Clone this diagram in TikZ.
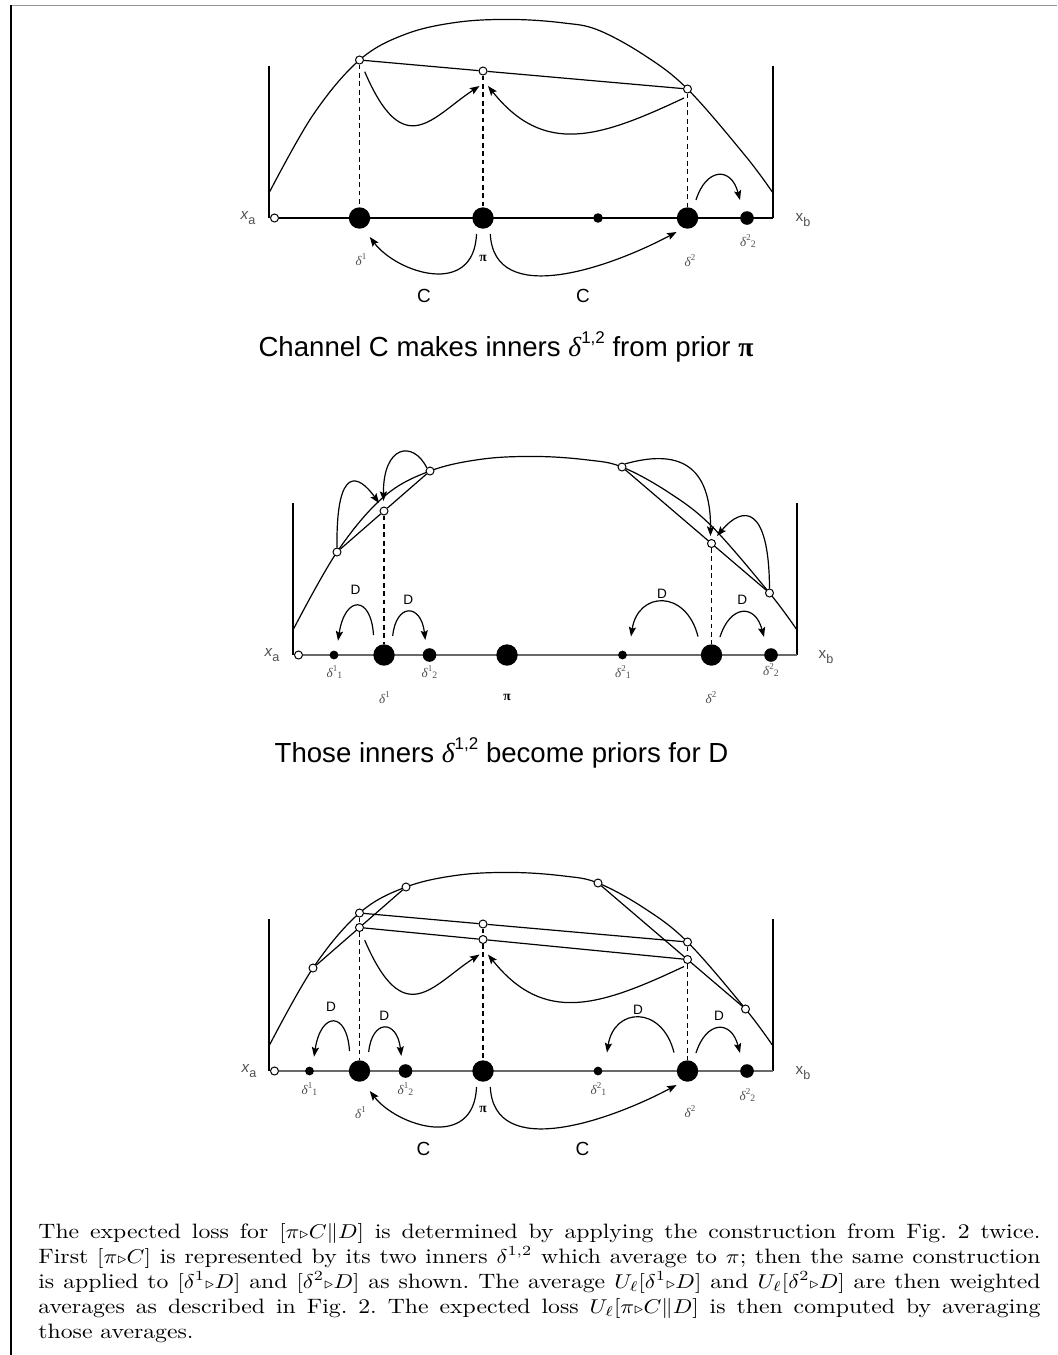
\documentclass[tikz,border=0pt]{standalone}
\usepackage{fontspec}
\usepackage{graphicx}
\usepackage{amsmath,amssymb}
\usetikzlibrary{arrows.meta}
\newfontfamily\lsans{Liberation Sans}
\newfontfamily\lserif{Liberation Serif}
\definecolor{lbl}{RGB}{80,80,80}
\definecolor{axg}{RGB}{105,105,105}
\definecolor{frameg}{RGB}{150,150,150}
\newcommand\dsup[1]{{\itshape δ}\raisebox{0.45em}{\fontsize{4.5}{4}\selectfont #1}}
\newcommand\dsupsub[2]{{\itshape δ}\raisebox{0.45em}{\fontsize{4.5}{4}\selectfont #1}\raisebox{-0.1em}{\fontsize{4.9}{4}\selectfont #2}}
\newcommand\xsub[1]{\raisebox{-0.3em}{\fontsize{6.3}{6}\selectfont #1}}
\newcommand\tri{{\scriptstyle\triangleright}}
\newcommand\pline[1]{\scalebox{1.14}[1]{\makebox[439.5pt][s]{#1}}}
\begin{document}
\begin{tikzpicture}[x=0.5pt,y=0.5pt,
  ln/.style={line width=0.6pt},
  ocirc/.style={circle,draw,fill=white,line width=0.5pt,inner sep=0pt,minimum size=4pt},
  bigdot/.style={circle,fill,inner sep=0pt,minimum size=10.7pt},
  middot/.style={circle,fill,inner sep=0pt,minimum size=6.8pt},
  smdot/.style={circle,fill,inner sep=0pt,minimum size=4.4pt},
  dsh/.style={line width=0.55pt,dash pattern=on 2.4pt off 1.8pt},
  arr/.style={line width=0.6pt,-{Stealth[length=4.8pt,width=3.6pt,inset=0.9pt]}},
  dlab/.style={text=lbl,font=\lserif\fontsize{6.6}{6.6}\selectfont,inner sep=0pt},
  pilab/.style={font=\lserif\bfseries\fontsize{6.8}{6.8}\selectfont,inner sep=0pt},
  clab/.style={font=\lsans\fontsize{9.5}{9.5}\selectfont,inner sep=0pt},
  Dlab/.style={font=\lsans\fontsize{6.8}{6.8}\selectfont,inner sep=0pt},
  xlab/.style={text=lbl,font=\lsans\fontsize{7.6}{7.6}\selectfont,inner sep=0pt},
  captxt/.style={font=\lsans\fontsize{13.8}{14}\selectfont,inner sep=0pt},
  para/.style={font=\frenchspacing\fontsize{10.4}{12.5}\selectfont,inner sep=0pt,anchor=base west}]
\useasboundingbox (0,0) rectangle (1057,-1355);
% frame
\coordinate (fr-tl) at (10,-5.3); \coordinate (fr-tr) at (1057,-5.3);
\coordinate (fr-l1) at (10.5,-5); \coordinate (fr-l2) at (10.5,-1355);
\draw[frameg,line width=0.75pt] (fr-tl) -- (fr-tr);
\draw[black,line width=1pt] (fr-l1) -- (fr-l2);

% ================= TOP =================
\begin{scope}[shift={(269,-218)}]
\draw[ln] plot[smooth,tension=0.6] coordinates {(0,25) (44,103) (90.5,158) (137,184) (190,196) (245,198.5) (295,195) (329,188) (375,163) (418.5,129) (476.5,62) (504,25)};
\coordinate (t-vl) at (0,152); \coordinate (t-o) at (0,0);
\coordinate (t-e) at (504,0); \coordinate (t-vr) at (504,152);
\draw[ln] (t-vl) -- (t-o);
\draw[ln] (t-e) -- (t-vr);
\node[ocirc] (t-xa) at (5.5,0) {};
\draw[ln] (t-xa) -- (t-e);
\node[bigdot] (t-d1) at (90.5,0) {};
\node[bigdot] (t-pi) at (214,0) {};
\node[smdot,minimum size=4.8pt] (t-d21) at (329,0) {};
\node[bigdot] (t-d2) at (418.5,0) {};
\node[middot] (t-d22) at (478,0) {};
\node[ocirc] (t-p1) at (90.5,158) {};
\node[ocirc] (t-pp) at (214,147) {};
\node[ocirc] (t-p2) at (418.5,129) {};
\draw[ln] (t-p1) -- (t-pp) -- (t-p2);
\draw[dsh] (t-p1) -- (t-d1);
\draw[dsh] (t-pp) -- (t-pi);
\draw[dsh] (t-p2) -- (t-d2);
\coordinate (t-a1s) at (95.7,146.3); \coordinate (t-a1e) at (210.5,132);
\draw[arr] (t-a1s) .. controls (135,55) and (163,101) .. (t-a1e);
\coordinate (t-a2s) at (415,120); \coordinate (t-a2e) at (219,132);
\draw[arr] (t-a2s) .. controls (330,80) and (275,62) .. (t-a2e);
\coordinate (t-a3s) at (427,18); \coordinate (t-a3e) at (471,18);
\draw[arr] (t-a3s) .. controls (437,50) and (462,52) .. (t-a3e);
\coordinate (t-c1s) at (207.5,-16); \coordinate (t-c1e) at (100.8,-19);
\draw[arr] (t-c1s) .. controls (205,-80) and (128,-55) .. (t-c1e);
\coordinate (t-c2s) at (221.3,-16); \coordinate (t-c2e) at (407.6,-14);
\draw[arr] (t-c2s) .. controls (225,-90) and (340,-50) .. (t-c2e);
\node[clab] (t-C1) at (155,-78) {C};
\node[clab] (t-C2) at (314,-78) {C};
\node[dlab] (t-l1) at (92,-42) {\dsup{1}};
\node[pilab] (t-lpi) at (214,-40) {π};
\node[dlab] (t-l2) at (421,-43) {\dsup{2}};
\node[dlab] (t-l22) at (479,-23) {\dsupsub{2}{2}};
\node[xlab] (t-xal) at (-21,0) {{\itshape x}\xsub{a}};
\node[xlab] (t-xbl) at (534,-2) {x\xsub{b}};
\end{scope}
\node[captxt] (cap1) at (506,-347) {Channel C makes inners {\lserif\itshape δ}\raisebox{0.5em}{\fontsize{8.5}{8}\selectfont 1,2} from prior {\lserif\bfseries π}};

% ================= MIDDLE =================
\begin{scope}[shift={(293,-655)}]
\draw[ln] plot[smooth,tension=0.6] coordinates {(0,25) (44,103) (90.5,158) (137,184) (190,196) (245,198.5) (295,195) (329,188) (375,163) (418.5,129) (476.5,62) (504,25)};
\coordinate (m-vl) at (0,152); \coordinate (m-o) at (0,0);
\coordinate (m-e) at (504,0); \coordinate (m-vr) at (504,152);
\draw[ln] (m-vl) -- (m-o);
\draw[ln] (m-e) -- (m-vr);
\node[ocirc] (m-xa) at (5.5,0) {};
\draw[ln,axg] (m-xa) -- (m-e);
\node[smdot] (m-d11) at (41,0) {};
\node[bigdot] (m-d1) at (91,0) {};
\node[middot] (m-d12) at (136.5,0) {};
\node[bigdot] (m-pi) at (214,0) {};
\node[smdot] (m-d21) at (329.5,0) {};
\node[bigdot] (m-d2) at (418.5,0) {};
\node[middot] (m-d22) at (478,0) {};
\node[ocirc] (m-c1) at (44,103) {};
\node[ocirc] (m-c3) at (137,184) {};
\node[ocirc] (m-c4) at (329,188) {};
\node[ocirc] (m-c6) at (476.5,62) {};
\node[ocirc] (m-k1) at (91,144) {};
\node[ocirc] (m-k2) at (418.5,111.5) {};
\draw[ln] (m-c1) -- (m-k1) -- (m-c3);
\draw[ln] (m-c4) -- (m-k2) -- (m-c6);
\draw[dsh] (m-k1) -- (m-d1);
\draw[dsh] (m-k2) -- (m-d2);
\coordinate (m-a1e) at (86,152);
\draw[arr] (m-c1.north) .. controls (43,192) and (66,180) .. (m-a1e);
\coordinate (m-a2e) at (90.5,154);
\draw[arr] (m-c3.north west) .. controls (120,215) and (90,210) .. (m-a2e);
\coordinate (m-a3e) at (417.5,119);
\draw[arr] (m-c4.north east) .. controls (375,203) and (418,200) .. (m-a3e);
\coordinate (m-a4e) at (424,119);
\draw[arr] (m-c6.north) .. controls (476,150) and (450,150) .. (m-a4e);
\coordinate (m-D1s) at (80.5,20); \coordinate (m-D1e) at (45,14.3);
\draw[arr] (m-D1s) .. controls (78,60) and (52,60) .. (m-D1e);
\coordinate (m-D2s) at (99.7,19); \coordinate (m-D2e) at (132.3,15);
\draw[arr] (m-D2s) .. controls (103,52) and (128,52) .. (m-D2e);
\coordinate (m-D3s) at (405,18.5); \coordinate (m-D3e) at (338,18.5);
\draw[arr] (m-D3s) .. controls (393,66) and (345,64) .. (m-D3e);
\coordinate (m-D4s) at (427,18); \coordinate (m-D4e) at (471,18);
\draw[arr] (m-D4s) .. controls (437,50) and (462,52) .. (m-D4e);
\node[Dlab] (m-DL1) at (62.5,65) {D};
\node[Dlab] (m-DL2) at (115.4,55) {D};
\node[Dlab] (m-DL3) at (369,61) {D};
\node[Dlab] (m-DL4) at (449.4,55) {D};
\node[dlab] (m-l11) at (41.5,-17) {\dsupsub{1}{1}};
\node[dlab] (m-l12) at (136.5,-17) {\dsupsub{1}{2}};
\node[dlab] (m-l1) at (91.5,-43) {\dsup{1}};
\node[pilab] (m-lpi) at (214,-42) {π};
\node[dlab] (m-l21) at (330,-17) {\dsupsub{2}{1}};
\node[dlab] (m-l2) at (418,-43) {\dsup{2}};
\node[dlab] (m-l22) at (478,-15) {\dsupsub{2}{2}};
\node[xlab] (m-xal) at (-21,0) {{\itshape x}\xsub{a}};
\node[xlab] (m-xbl) at (533,-2) {x\xsub{b}};
\end{scope}
\node[captxt] (cap2) at (501.5,-753) {Those inners {\lserif\itshape δ}\raisebox{0.5em}{\fontsize{8.5}{8}\selectfont 1,2} become priors for D};

% ================= BOTTOM =================
\begin{scope}[shift={(269,-1071)}]
\draw[ln] plot[smooth,tension=0.6] coordinates {(0,25) (44,103) (90.5,158) (137,184) (190,196) (245,198.5) (295,195) (329,188) (375,163) (418.5,129) (476.5,62) (504,25)};
\coordinate (b-vl) at (0,152); \coordinate (b-o) at (0,0);
\coordinate (b-e) at (504,0); \coordinate (b-vr) at (504,152);
\draw[ln] (b-vl) -- (b-o);
\draw[ln] (b-e) -- (b-vr);
\node[ocirc] (b-xa) at (5.5,0) {};
\draw[ln,axg] (b-xa) -- (b-e);
\node[smdot] (b-d11) at (40.5,0) {};
\node[bigdot] (b-d1) at (90.5,0) {};
\node[middot] (b-d12) at (136.5,0) {};
\node[bigdot] (b-pi) at (214,0) {};
\node[smdot] (b-d21) at (329,0) {};
\node[bigdot] (b-d2) at (418.5,0) {};
\node[middot] (b-d22) at (478,0) {};
\node[ocirc] (b-c1) at (44,103) {};
\node[ocirc] (b-c2) at (90.5,158) {};
\node[ocirc] (b-c3) at (137,184) {};
\node[ocirc] (b-c4) at (329,188) {};
\node[ocirc] (b-c5) at (418.5,129) {};
\node[ocirc] (b-c6) at (476.5,62) {};
\node[ocirc] (b-k1) at (90.5,143.5) {};
\node[ocirc] (b-k2) at (418.5,111.5) {};
\node[ocirc] (b-pu) at (214,147) {};
\node[ocirc] (b-pl) at (214,131.5) {};
\draw[ln] (b-c1) -- (b-k1) -- (b-c3);
\draw[ln] (b-c4) -- (b-k2) -- (b-c6);
\draw[ln] (b-c2) -- (b-pu) -- (b-c5);
\draw[ln] (b-k1) -- (b-pl) -- (b-k2);
\draw[dsh] (b-c2) -- (b-k1);
\draw[dsh] (b-k1) -- (b-d1);
\draw[dsh] (b-pu) -- (b-pl);
\draw[dsh] (b-pl) -- (b-pi);
\draw[dsh] (b-c5) -- (b-k2);
\draw[dsh] (b-k2) -- (b-d2);
\coordinate (b-a1s) at (95.7,130.8); \coordinate (b-a1e) at (210.5,116.5);
\draw[arr] (b-a1s) .. controls (135,39.5) and (163,85.5) .. (b-a1e);
\coordinate (b-a2s) at (415,104.5); \coordinate (b-a2e) at (219,116.5);
\draw[arr] (b-a2s) .. controls (330,64.5) and (275,46.5) .. (b-a2e);
\coordinate (b-D1s) at (80.5,20); \coordinate (b-D1e) at (45,14.3);
\draw[arr] (b-D1s) .. controls (78,60) and (52,60) .. (b-D1e);
\coordinate (b-D2s) at (99.7,19); \coordinate (b-D2e) at (132.3,15);
\draw[arr] (b-D2s) .. controls (103,52) and (128,52) .. (b-D2e);
\coordinate (b-D3s) at (405,18.5); \coordinate (b-D3e) at (338,18.5);
\draw[arr] (b-D3s) .. controls (393,66) and (345,64) .. (b-D3e);
\coordinate (b-D4s) at (427,18); \coordinate (b-D4e) at (471,18);
\draw[arr] (b-D4s) .. controls (437,50) and (462,52) .. (b-D4e);
\node[Dlab] (b-DL1) at (62,64) {D};
\node[Dlab] (b-DL2) at (115.4,55) {D};
\node[Dlab] (b-DL3) at (369,61) {D};
\node[Dlab] (b-DL4) at (450,55) {D};
\coordinate (b-c1s) at (207.5,-16); \coordinate (b-c1e) at (100.8,-20);
\draw[arr] (b-c1s) .. controls (205,-80) and (128,-55) .. (b-c1e);
\coordinate (b-c2s) at (221.3,-16); \coordinate (b-c2e) at (407.6,-14);
\draw[arr] (b-c2s) .. controls (225,-90) and (340,-50) .. (b-c2e);
\node[clab] (b-C1) at (154.5,-78) {C};
\node[clab] (b-C2) at (313.5,-78) {C};
\node[dlab] (b-l11) at (40.5,-18) {\dsupsub{1}{1}};
\node[dlab] (b-l12) at (136.5,-18) {\dsupsub{1}{2}};
\node[dlab] (b-l1) at (91.5,-42) {\dsup{1}};
\node[pilab] (b-lpi) at (214,-38) {π};
\node[dlab] (b-l21) at (329.5,-18) {\dsupsub{2}{1}};
\node[dlab] (b-l2) at (421,-41) {\dsup{2}};
\node[dlab] (b-l22) at (478.5,-24) {\dsupsub{2}{2}};
\node[xlab] (b-xal) at (-20,0) {{\itshape x}\xsub{a}};
\node[xlab] (b-xbl) at (534,-2) {x\xsub{b}};
\end{scope}

% ================= PARAGRAPH =================
\node[para] (p1) at (38,-1238) {\pline{The expected loss for $[\pi\tri C\|D]$ is determined by applying the construction from Fig.\ 2 twice.}};
\node[para] (p2) at (38,-1263) {\pline{First $[\pi\tri C]$ is represented by its two inners $\delta^{1,2}$ which average to $\pi$; then the same construction}};
\node[para] (p3) at (38,-1288) {\pline{is applied to $[\delta^1\tri D]$ and $[\delta^2\tri D]$ as shown. The average $U_\ell[\delta^1\tri D]$ and $U_\ell[\delta^2\tri D]$ are then weighted}};
\node[para] (p4) at (38,-1313) {\pline{averages as described in Fig.\ 2. The expected loss $U_\ell[\pi\tri C\|D]$ is then computed by averaging}};
\node[para] (p5) at (38,-1338) {\scalebox{1.14}[1]{those averages.}};
\end{tikzpicture}
\end{document}
